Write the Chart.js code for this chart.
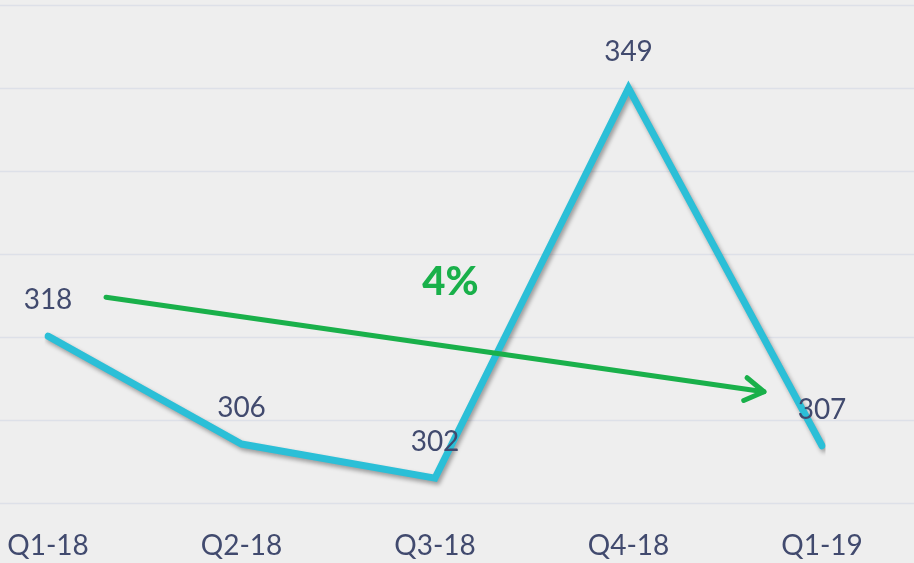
<!DOCTYPE html>
<html>
<head>
<meta charset="utf-8">
<script src="https://cdn.jsdelivr.net/npm/chart.js@4.4.1/dist/chart.umd.min.js"></script>
<style>
  html, body { margin: 0; padding: 0; background: #eeeeee; }
  #wrap { width: 914px; height: 563px; }
</style>
</head>
<body>
<div id="wrap"><canvas id="myChart"></canvas></div>
<script>
// quarters on the x axis
const quarters = ["Q1-18", "Q2-18", "Q3-18", "Q4-18", "Q1-19"];
// where the line sits
const lineValues = [319.1, 306.1, 302, 349, 305.9];
// the numbers printed above each point
const pointLabels = ["318", "306", "302", "349", "307"];
// trend arrow, given as [category index, value]
const trendFrom = [0.3, 323.8];
const trendTo = [3.7, 312.4];
const trendText = "4%";
const trendTextAt = [2.08, 325.6];
// gridline values
const gridValues = [299, 309, 319, 329, 339, 349, 359];

const textColor = "#414a6e";
const lineColor = "#2bbfd7";
const green = "#19b04a";

// gridlines across the full width, under everything
const gridPlugin = {
  id: "fullGrid",
  beforeDatasetsDraw(chart) {
    const ctx = chart.ctx;
    const y = chart.scales.y;
    ctx.save();
    ctx.strokeStyle = "#dde0e8";
    ctx.lineWidth = 1.5;
    gridValues.forEach(v => {
      const py = Math.round(y.getPixelForValue(v)) + 0.5;
      ctx.beginPath();
      ctx.moveTo(0, py);
      ctx.lineTo(chart.width, py);
      ctx.stroke();
    });
    ctx.restore();
  }
};

// drop shadow on the line
const shadowPlugin = {
  id: "lineShadow",
  beforeDatasetDraw(chart) {
    const ctx = chart.ctx;
    ctx.save();
    ctx.shadowColor = "rgba(0,0,0,0.35)";
    ctx.shadowBlur = 4;
    ctx.shadowOffsetX = 2;
    ctx.shadowOffsetY = 3;
  },
  afterDatasetDraw(chart) {
    chart.ctx.restore();
  }
};

// labels above points, trend arrow and its text
const overlayPlugin = {
  id: "overlay",
  afterDatasetsDraw(chart) {
    const ctx = chart.ctx;
    const xs = chart.scales.x;
    const ys = chart.scales.y;
    const meta = chart.getDatasetMeta(0);

    ctx.save();
    ctx.fillStyle = textColor;
    ctx.font = "28px Lato";
    ctx.textAlign = "center";
    ctx.textBaseline = "middle";
    meta.data.forEach((pt, i) => {
      ctx.fillText(pointLabels[i], pt.x, pt.y - 36);
    });

    // arrow
    const x1 = xs.getPixelForValue(trendFrom[0]);
    const y1 = ys.getPixelForValue(trendFrom[1]);
    const x2 = xs.getPixelForValue(trendTo[0]);
    const y2 = ys.getPixelForValue(trendTo[1]);
    ctx.strokeStyle = green;
    ctx.lineWidth = 5;
    ctx.lineCap = "round";
    ctx.lineJoin = "round";
    ctx.beginPath();
    ctx.moveTo(x1, y1);
    ctx.lineTo(x2, y2);
    ctx.stroke();
    const ang = Math.atan2(y2 - y1, x2 - x1);
    const head = 22;
    ctx.beginPath();
    ctx.moveTo(x2 - head * Math.cos(ang - 0.55), y2 - head * Math.sin(ang - 0.55));
    ctx.lineTo(x2, y2);
    ctx.lineTo(x2 - head * Math.cos(ang + 0.55), y2 - head * Math.sin(ang + 0.55));
    ctx.stroke();

    ctx.fillStyle = green;
    ctx.font = "900 40px Lato";
    ctx.fillText(trendText, xs.getPixelForValue(trendTextAt[0]), ys.getPixelForValue(trendTextAt[1]));
    ctx.restore();
  }
};

const ctx = document.getElementById("myChart");
const myChart = new Chart(ctx, {
  type: "line",
  data: {
    labels: quarters,
    datasets: [
      {
        data: lineValues,
        borderColor: lineColor,
        borderWidth: 7,
        borderCapStyle: "round",
        pointRadius: 0,
        tension: 0,
        fill: false
      }
    ]
  },
  options: {
    responsive: true,
    maintainAspectRatio: false,
    animation: false,
    layout: { padding: { top: 5, left: 48, right: 92, bottom: 0 } },
    plugins: {
      legend: { display: false },
      tooltip: { enabled: false }
    },
    scales: {
      x: {
        grid: { display: false, drawTicks: false },
        border: { display: false },
        ticks: {
          color: textColor,
          font: { family: "Lato", size: 28 },
          padding: 26,
          maxRotation: 0,
          autoSkip: false
        },
        afterFit(scale) {
          scale.height = 60;
          scale.paddingLeft = 0;
          scale.paddingRight = 0;
        }
      },
      y: {
        display: false,
        min: 299,
        max: 359,
        afterBuildTicks(scale) {
          scale.ticks = gridValues.map(v => ({ value: v }));
        }
      }
    }
  },
  plugins: [gridPlugin, shadowPlugin, overlayPlugin]
});
</script>
</body>
</html>
